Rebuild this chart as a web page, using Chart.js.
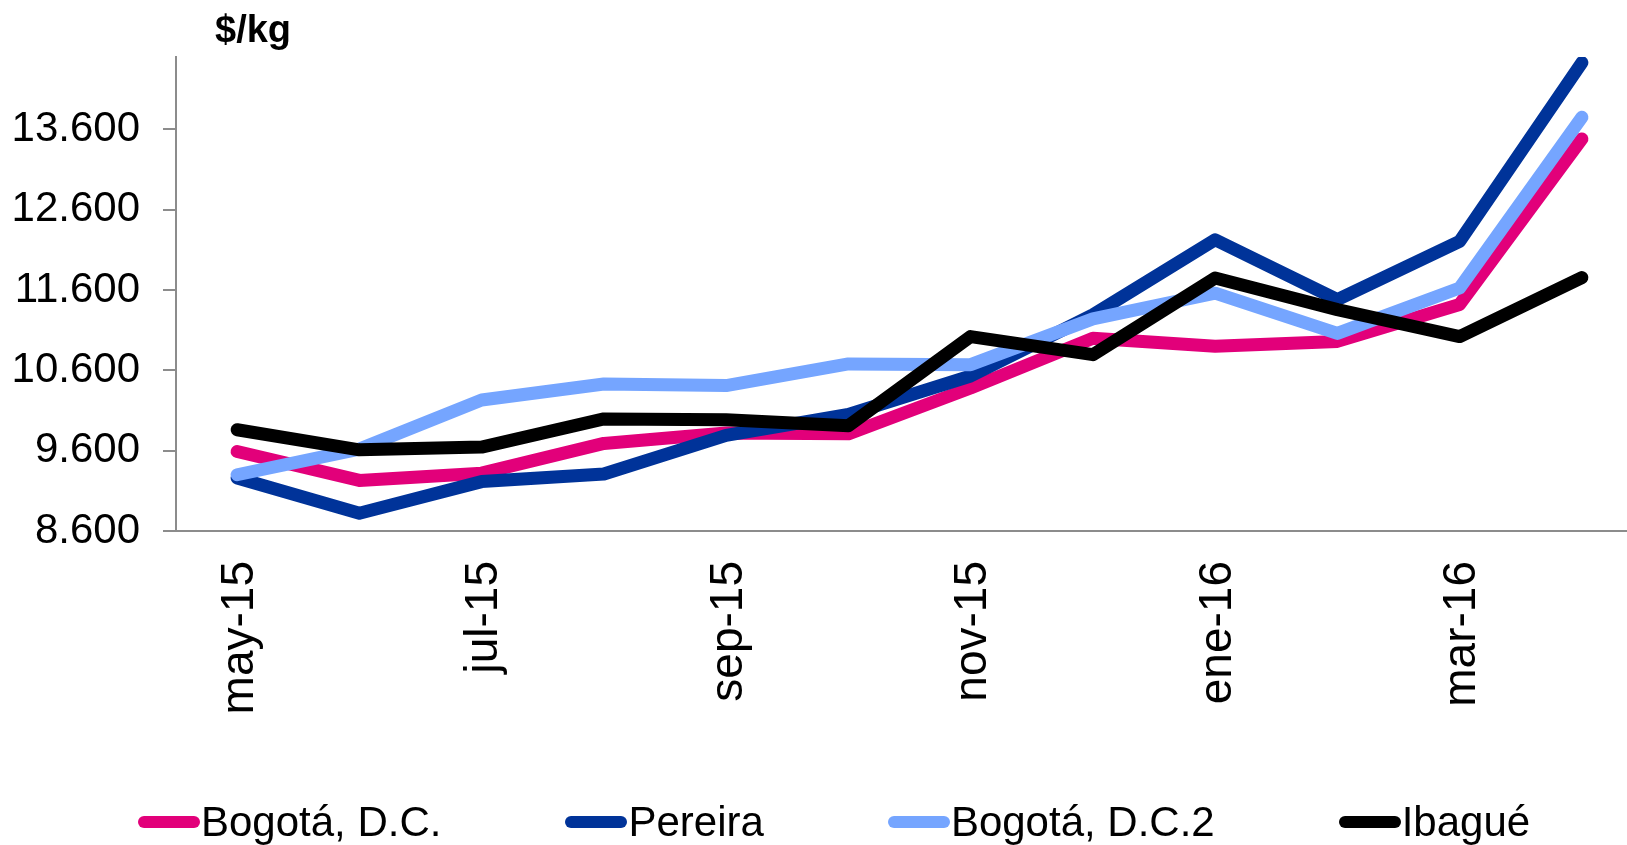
<!DOCTYPE html>
<html>
<head>
<meta charset="utf-8">
<script src="https://cdn.jsdelivr.net/npm/chart.js@4.4.1/dist/chart.umd.min.js"></script>
<style>
  html, body { margin: 0; padding: 0; background: #fff; overflow: hidden; }
  #wrap { position: relative; width: 1643px; height: 845px; }
  #unit { position: absolute; left: 215px; top: 8px; font: bold 38px 'Liberation Sans', Arial, sans-serif; color: #000; white-space: nowrap; }
  #legend { position: absolute; left: 138px; top: 798px; width: max-content; display: flex; flex-wrap: nowrap; white-space: nowrap; font: 42px 'Liberation Sans', Arial, sans-serif; line-height: 48px; color: #000; }
  #legend .item { display: flex; align-items: center; flex-shrink: 0; margin-right: 124px; }
  #legend .mark { width: 62px; height: 12px; border-radius: 6px; margin-right: 1px; flex-shrink: 0; }
</style>
</head>
<body>
<div id="wrap">
  <canvas id="chart"></canvas>
  <div id="unit">$/kg</div>
  <div id="legend"></div>
</div>
<script>
var months = ['may-15', 'jun-15', 'jul-15', 'ago-15', 'sep-15', 'oct-15', 'nov-15', 'dic-15', 'ene-16', 'feb-16', 'mar-16', 'abr-16'];
var bogota = [9590, 9230, 9320, 9690, 9820, 9810, 10380, 11000, 10900, 10960, 11420, 13480];
var pereira = [9260, 8820, 9215, 9310, 9790, 10050, 10530, 11290, 12225, 11480, 12205, 14430];
var bogota2 = [9300, 9620, 10230, 10430, 10410, 10680, 10670, 11240, 11560, 11060, 11625, 13750];
var ibague = [9860, 9610, 9645, 9995, 9985, 9910, 11020, 10795, 11750, 11355, 11020, 11755];
var yTicks = [8600, 9600, 10600, 11600, 12600, 13600];

var names = ['Bogotá, D.C.', 'Pereira', 'Bogotá, D.C.2', 'Ibagué'];
var colors = ['#e2007a', '#003399', '#75a5ff', '#000000'];
var series = [bogota, pereira, bogota2, ibague];

function fmt(v) {
    return String(v).replace(/\B(?=(\d{3})+(?!\d))/g, '.');
}

var font = "'Liberation Sans', Arial, sans-serif";
var axisGray = '#8c8c8c';

var ctx = document.getElementById('chart').getContext('2d');
var myChart = new Chart(ctx, {
    type: 'line',
    data: {
        labels: months,
        datasets: series.map(function (d, i) {
            return {
                label: names[i],
                data: d,
                borderColor: colors[i],
                backgroundColor: colors[i],
                borderWidth: 13,
                borderCapStyle: 'round',
                borderJoinStyle: 'round',
                pointRadius: 0,
                tension: 0,
                order: series.length - i
            };
        })
    },
    options: {
        responsive: true,
        maintainAspectRatio: false,
        animation: false,
        layout: { padding: { top: 57, right: 0, bottom: 0, left: 0 } },
        plugins: {
            legend: { display: false },
            tooltip: { enabled: false }
        },
        scales: {
            x: {
                offset: true,
                grid: { display: true, drawOnChartArea: false, drawTicks: false },
                border: { display: true, color: axisGray, width: 2 },
                ticks: {
                    autoSkip: false,
                    maxRotation: 90,
                    minRotation: 90,
                    padding: 30,
                    labelOffset: 3,
                    color: '#000',
                    font: { family: font, size: 46 },
                    callback: function (v, i) { return i % 2 === 0 ? months[i] : ''; }
                },
                afterFit: function (s) {
                    s.height = 845 - 531;
                    s.paddingLeft = 0;
                    s.paddingRight = 0;
                }
            },
            y: {
                min: 8600,
                max: 14500,
                grid: { drawOnChartArea: false, drawTicks: true, tickLength: 13, color: axisGray, lineWidth: 2 },
                border: { display: true, color: axisGray, width: 2 },
                ticks: {
                    padding: 23,
                    color: '#000',
                    font: { family: font, size: 42 },
                    callback: function (v) { return fmt(v); }
                },
                afterBuildTicks: function (s) {
                    s.ticks = yTicks.map(function (v) { return { value: v }; });
                },
                afterFit: function (s) {
                    s.width = 176;
                    s.paddingTop = 0;
                    s.paddingBottom = 0;
                }
            }
        }
    }
});

var legend = document.getElementById('legend');
names.forEach(function (n, i) {
    var item = document.createElement('div');
    item.className = 'item';
    var mark = document.createElement('span');
    mark.className = 'mark';
    mark.style.background = colors[i];
    var txt = document.createElement('span');
    txt.textContent = n;
    item.appendChild(mark);
    item.appendChild(txt);
    legend.appendChild(item);
});
</script>
</body>
</html>
